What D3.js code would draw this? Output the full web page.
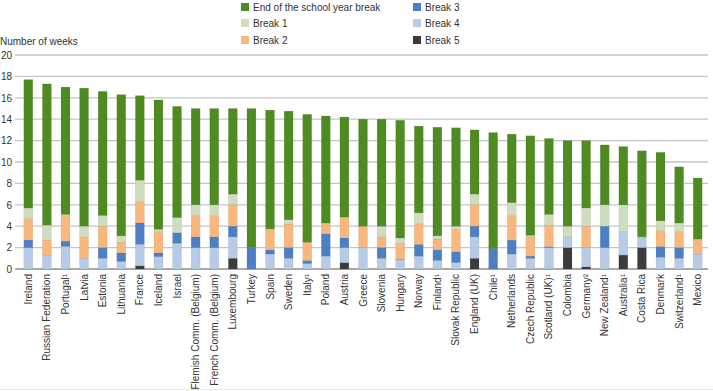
<!DOCTYPE html>
<html><head><meta charset="utf-8">
<script src="https://cdn.jsdelivr.net/npm/d3@7"></script>
<style>
html,body{margin:0;padding:0;background:#fff;}
svg{display:block;font-family:"Liberation Sans",Arial,sans-serif;}
</style></head><body>
<svg id="c" width="713" height="391"></svg>
<script>
const countries = ["Ireland","Russian Federation","Portugal¹","Latvia","Estonia","Lithuania","France","Iceland","Israel","Flemish Comm. (Belgium)","French Comm. (Belgium)","Luxembourg","Turkey","Spain","Sweden","Italy¹","Poland","Austria","Greece","Slovenia","Hungary","Norway","Finland¹","Slovak Republic","England (UK)","Chile¹","Netherlands","Czech Republic","Scotland (UK)¹","Colombia","Germany²","New Zealand¹","Australia¹","Costa Rica","Denmark","Switzerland¹","Mexico"];
// weeks, bottom to top: Break 5, Break 4, Break 3, Break 2, Break 1, End of the school year break
const break5 = [0,0,0,0,0,0,0.3,0,0,0,0,1.0,0,0,0,0,0,0.6,0,0,0,0,0,0,1.0,0,0,0,0,2.0,0.2,0,1.3,2.0,0,0,0];
const break4 = [2.0,1.3,2.1,1.0,1.0,0.7,2.0,1.15,2.4,2.0,2.0,2.0,0,1.4,1.0,0.5,1.2,1.4,2.0,1.0,0.85,1.2,0.8,0.6,2.0,0,1.4,1.0,2.0,1.0,1.8,2.0,2.2,1.0,1.1,1.0,1.4];
const break3 = [0.7,0,0.5,0,1.0,0.8,2.0,0.35,1.0,1.0,1.0,1.0,2.0,0.4,1.0,0.3,2.1,0.9,0,1.0,0.05,1.1,1.0,1.0,1.0,1.9,1.3,0.2,0.1,0,0,2.0,0,0,1.0,1.0,0];
const break2 = [2.0,1.4,2.4,2.0,2.0,1.0,2.0,2.0,0,2.0,2.0,2.0,0,1.95,2.2,1.7,1.0,1.95,2.0,1.0,1.5,1.95,1.0,2.1,2.0,0,2.3,1.8,2.0,0,2.0,0,0,0,1.5,1.5,1.4];
const break1 = [1.0,1.4,0.1,1.0,1.0,0.6,2.0,0.2,1.4,1.0,1.0,1.0,0,0,0.4,0,0,0,0,1.0,0.5,1.0,0.3,0.3,1.0,0,1.2,0.15,1.0,1.0,1.7,2.0,2.5,0,0.9,0.8,0];
const endYear = [12.0,13.2,11.9,12.9,11.6,13.2,7.9,12.1,10.4,9.0,9.0,8.0,13.0,11.1,10.15,11.95,10.0,9.35,10.0,10.0,11.0,8.1,10.15,9.2,6.0,10.85,6.4,9.3,7.1,8.0,6.3,5.6,5.45,8.05,6.4,5.25,5.7];
const yTicks = [0,2,4,6,8,10,12,14,16,18,20];
const seriesKeys = ["b5","b4","b3","b2","b1","end"];
const seriesNames = {end:"End of the school year break",b1:"Break 1",b2:"Break 2",b3:"Break 3",b4:"Break 4",b5:"Break 5"};
const colors = {end:"#4e8b20",b1:"#cfdcbf",b2:"#f9b77d",b3:"#4d7fc5",b4:"#b7cbe6",b5:"#3c3c3c"};

const rows = countries.map((c,i)=>({country:c,b5:break5[i],b4:break4[i],b3:break3[i],b2:break2[i],b1:break1[i],end:endYear[i]}));
const svg = d3.select("#c");
const x = d3.scaleBand().domain(countries).range([19,707]).paddingInner(0.52).paddingOuter(0.26);
const y = d3.scaleLinear().domain([0,20]).range([269,55]);

// gridlines
svg.append("g").selectAll("line").data(yTicks).join("line")
  .attr("x1",15).attr("x2",708).attr("y1",d=>y(d)).attr("y2",d=>y(d))
  .attr("stroke",d=>d===0?"#8c8c8c":"#c6c6c6").attr("stroke-width",d=>d===0?1.6:1.3);

// y labels
const yAxis = d3.axisLeft(y).tickValues(yTicks).tickSize(0).tickPadding(3);
const ya = svg.append("g").attr("transform","translate(15,0)").call(yAxis);
ya.select(".domain").remove();
ya.selectAll("text").attr("font-size",10).attr("fill","#333").attr("font-family","Liberation Sans, Arial, sans-serif");

// bars
const stack = d3.stack().keys(seriesKeys)(rows);
svg.append("g").selectAll("g").data(stack).join("g").attr("fill",d=>colors[d.key])
  .selectAll("rect").data(d=>d.filter(s=>s[1]-s[0]>0)).join("rect")
  .attr("x",d=>x(d.data.country)).attr("width",x.bandwidth())
  .attr("y",d=>y(d[1])).attr("height",d=>y(d[0])-y(d[1]))
  .attr("stroke","rgba(0,0,0,0.12)").attr("stroke-width",0.5);

// x labels
const xa = svg.append("g").attr("transform","translate(0,269)").call(d3.axisBottom(x).tickSize(0).tickPadding(0));
xa.select(".domain").remove();
xa.selectAll("text").attr("font-size",10).attr("fill","#333").attr("font-family","Liberation Sans, Arial, sans-serif")
  .attr("text-anchor","end").attr("dy","0.35em")
  .attr("transform",function(){ return "translate(0,5) rotate(-90)"; })
  .attr("x",0).attr("y",0);

// axis title
svg.append("text").attr("x",0).attr("y",45).attr("font-size",10).attr("fill","#333").text("Number of weeks");

// legend
const legendItems = [["end",241,7],["b1",241,23],["b2",241,40],["b3",413,7],["b4",413,23],["b5",413,40]];
const lg = svg.append("g").selectAll("g").data(legendItems).join("g");
lg.append("rect").attr("x",d=>d[1]).attr("y",d=>d[2]-4).attr("width",8).attr("height",8).attr("fill",d=>colors[d[0]]);
lg.append("text").attr("x",d=>d[1]+12).attr("y",d=>d[2]+3.5).attr("font-size",10).attr("fill","#333").text(d=>seriesNames[d[0]]);

// frame line at bottom
svg.append("line").attr("x1",0).attr("x2",713).attr("y1",389.5).attr("y2",389.5).attr("stroke","#e6e6e6");
</script>
</body></html>
